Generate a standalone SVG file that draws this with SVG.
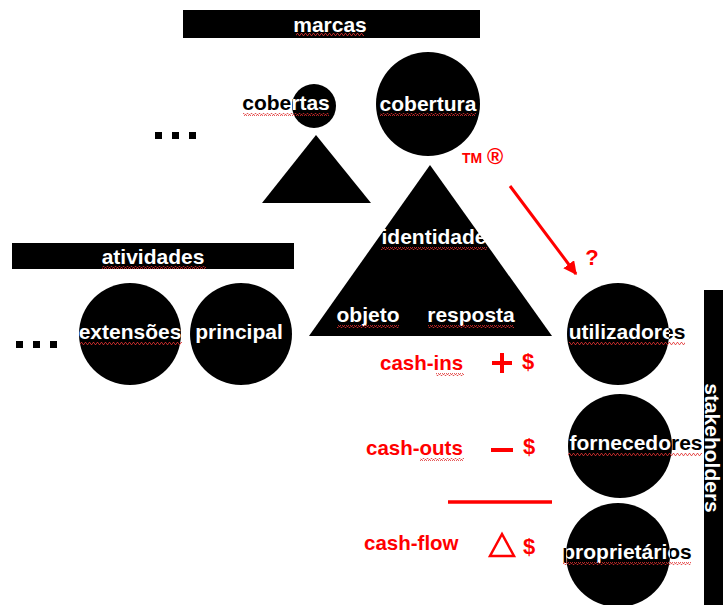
<svg xmlns="http://www.w3.org/2000/svg" width="723" height="605" viewBox="0 0 723 605">
<style>
.lbl{font-family:"Liberation Sans",Arial,sans-serif;font-weight:bold;font-size:21px;text-anchor:middle}
.blk{fill:#000}
.wht{fill:#fff}
.red{fill:#f00;font-family:"Liberation Sans",Arial,sans-serif;font-weight:bold}
.shape{fill:#000}
.wave{fill:url(#wv)}
</style>
<defs>
<pattern id="wv" width="4" height="3" patternUnits="userSpaceOnUse">
<path d="M0,2.5 L1,0.5 L2,0.5 L3,2.5 L4,2.5" fill="none" stroke="#e03030" stroke-width="0.8"/>
</pattern>
<marker id="ah" viewBox="0 0 10 10" refX="9" refY="5" markerWidth="4.5" markerHeight="4.5" orient="auto" markerUnits="strokeWidth">
<path d="M0,0 L10,5 L0,10 z" fill="#f00"/>
</marker>
<clipPath id="cCobertas"><circle cx="314" cy="106" r="22"/></clipPath>
<clipPath id="cUtil"><circle cx="618" cy="334" r="51"/></clipPath>
<clipPath id="cForn"><circle cx="620" cy="446" r="52"/></clipPath>
<clipPath id="cProp"><circle cx="618" cy="555" r="52"/></clipPath>
<clipPath id="cExt"><circle cx="130" cy="334" r="51"/></clipPath>
</defs>

<g id="marcas">
<rect x="183" y="10" width="297" height="28" class="shape"/>
<text x="330" y="32" class="lbl wht" font-size="20">marcas</text>
<rect x="296" y="33" width="68" height="3" class="wave"/>
</g>

<g id="cobertas">
<circle cx="314" cy="106" r="22" class="shape"/>
<text x="286" y="110" class="lbl blk">cobertas</text>
<text x="286" y="110" class="lbl wht" clip-path="url(#cCobertas)">cobertas</text>
<rect x="243" y="113" width="86" height="3" class="wave"/>
</g>

<g id="triangulo-pequeno">
<polygon points="316,135 371,203 262,203" class="shape"/>
</g>

<g id="cobertura">
<circle cx="428" cy="104" r="52" class="shape"/>
<text x="428" y="111" class="lbl wht">cobertura</text>
<rect x="380" y="113" width="96" height="3" class="wave"/>
</g>

<g id="marcas-simbolos">
<text x="462" y="163" class="red" font-size="14">TM</text>
<text x="487" y="164" class="red" font-size="22">®</text>
</g>

<g id="reticencias-topo">
<rect x="155" y="132" width="7" height="7" class="shape"/>
<rect x="172" y="132" width="7" height="7" class="shape"/>
<rect x="189" y="132" width="7" height="7" class="shape"/>
</g>

<g id="identidade">
<polygon points="430,165 552,336 309,336" class="shape"/>
<text x="434" y="244" class="lbl wht">identidade</text>
<rect x="381" y="247" width="106" height="3" class="wave"/>
<text x="368" y="322" class="lbl wht">objeto</text>
<rect x="337" y="325" width="62" height="3" class="wave"/>
<text x="471" y="322" class="lbl wht">resposta</text>
<rect x="428" y="325" width="86" height="3" class="wave"/>
</g>

<g id="atividades">
<rect x="12" y="243" width="282" height="26" class="shape"/>
<text x="153" y="264" class="lbl wht" font-size="20">atividades</text>
<rect x="102" y="266" width="104" height="3" class="wave"/>
</g>

<g id="reticencias-esq">
<rect x="16" y="341" width="7" height="7" class="shape"/>
<rect x="33" y="341" width="7" height="7" class="shape"/>
<rect x="50" y="341" width="7" height="7" class="shape"/>
</g>

<g id="extensoes">
<circle cx="130" cy="334" r="51" class="shape"/>
<text x="130" y="339" class="lbl blk">extensões</text>
<text x="130" y="339" class="lbl wht" clip-path="url(#cExt)">extensões</text>
<rect x="80" y="342" width="102" height="3" class="wave"/>
</g>

<g id="principal">
<circle cx="241" cy="334" r="51" class="shape"/>
<text x="239" y="339" class="lbl wht">principal</text>
</g>

<g id="utilizadores">
<circle cx="618" cy="334" r="51" class="shape"/>
<text x="627" y="339" class="lbl blk">utilizadores</text>
<text x="627" y="339" class="lbl wht" clip-path="url(#cUtil)">utilizadores</text>
<rect x="569" y="342" width="116" height="3" class="wave"/>
</g>

<g id="fornecedores">
<circle cx="620" cy="446" r="52" class="shape"/>
<text x="636" y="450" class="lbl blk">fornecedores</text>
<text x="636" y="450" class="lbl wht" clip-path="url(#cForn)">fornecedores</text>
<rect x="568" y="453" width="134" height="3" class="wave"/>
</g>

<g id="proprietarios">
<circle cx="618" cy="555" r="52" class="shape"/>
<text x="627" y="559" class="lbl blk">proprietários</text>
<text x="627" y="559" class="lbl wht" clip-path="url(#cProp)">proprietários</text>
<rect x="563" y="562" width="128" height="3" class="wave"/>
</g>

<g id="stakeholders">
<rect x="704" y="290" width="19" height="315" class="shape"/>
<text transform="translate(705,448) rotate(90)" class="lbl wht" font-size="19">stakeholders</text>
</g>

<g id="cash">
<text x="380" y="370" class="red" font-size="20.5">cash-ins</text>
<rect x="436" y="373" width="28" height="3" class="wave"/>
<rect x="492" y="361" width="20" height="4" fill="#f00"/>
<rect x="500" y="353" width="4" height="20" fill="#f00"/>
<text x="528" y="369" class="red" font-size="22" text-anchor="middle">$</text>
<text x="366" y="455" class="red" font-size="20.5">cash-outs</text>
<rect x="420" y="458" width="44" height="3" class="wave"/>
<rect x="491" y="448" width="22" height="4" fill="#f00"/>
<text x="529" y="454" class="red" font-size="22" text-anchor="middle">$</text>
<line x1="448" y1="502" x2="552" y2="502" stroke="#f00" stroke-width="3.5"/>
<text x="364" y="550" class="red" font-size="20.5">cash-flow</text>
<polygon points="502,534 514,556 490,556" fill="none" stroke="#f00" stroke-width="2.5"/>
<text x="529" y="554" class="red" font-size="22" text-anchor="middle">$</text>
</g>

<g id="conectores">
<line x1="510" y1="186" x2="576" y2="274" stroke="#f00" stroke-width="3" marker-end="url(#ah)"/>
<text x="592" y="265" class="red" font-size="22" text-anchor="middle">?</text>
</g>
</svg>
